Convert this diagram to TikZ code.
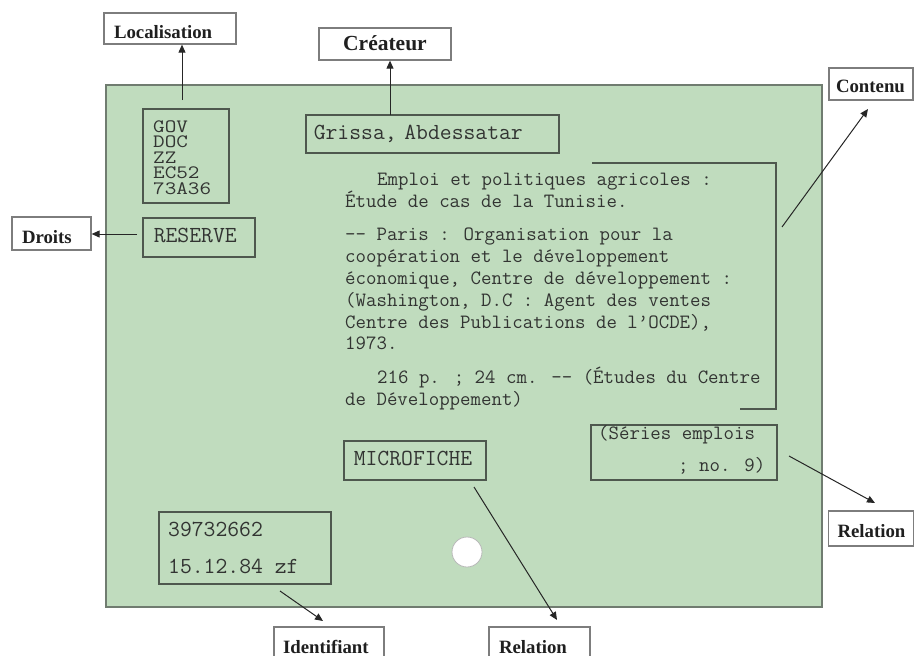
\documentclass[tikz,border=0pt]{standalone}
\usepackage{fontspec}
\setmainfont{Liberation Serif}
\usetikzlibrary{arrows.meta}
\definecolor{cardfill}{RGB}{192,220,190}
\definecolor{cardedge}{RGB}{112,124,112}
\definecolor{boxedge}{RGB}{78,88,78}
\definecolor{cardtext}{RGB}{50,52,50}
\definecolor{lbledge}{RGB}{125,125,125}
\newcommand{\dd}{-\kern0pt-}
\newcommand{\squash}[1]{\scalebox{1}[0.84]{#1}}
\begin{document}
\begin{tikzpicture}[x=1pt,y=-1pt,
  lbl/.style={draw=lbledge, line width=1.3pt, fill=white, inner ysep=0pt, inner xsep=10pt, anchor=base,
              font=\bfseries\fontsize{18.8}{22}\selectfont, text=black!88, align=left},
  cbox/.style={draw=boxedge, line width=1.6pt, inner ysep=0pt, anchor=base west,
               font=\ttfamily\fontsize{23}{26}\selectfont, text=cardtext, align=left},
  boxframe/.style={draw=boxedge, line width=1.6pt, rectangle, inner sep=0pt, anchor=north west},
  ctxt/.style={inner sep=0pt, anchor=base west, text=cardtext},
  bigmono/.style={font=\ttfamily\fontsize{23}{26}\selectfont},
  govmono/.style={font=\ttfamily\fontsize{22.5}{24}\selectfont, text height=11pt, text depth=0.5pt},
  smallmono/.style={font=\ttfamily\fontsize{20.3}{22}\selectfont},
  arr/.style={draw=black!85, line width=1pt, -{Triangle[length=8pt,width=7pt]}},
]
\useasboundingbox (0,0) rectangle (914,656);
\clip (0,0) rectangle (914,656);

% card
\node[draw=cardedge, fill=cardfill, line width=2pt, minimum width=716pt, minimum height=522pt,
      anchor=north west, inner sep=0pt] (card) at (105,84) {};

% outside labels
\node[lbl, text width=112pt, text height=25pt, text depth=6pt] (loc) at (170,38) {Localisation};
\node[lbl, text width=112pt, text height=22pt, text depth=10pt, align=center,
      font=\bfseries\fontsize{21.5}{24}\selectfont] (cre) at (385,50) {Créateur};
\node[lbl, inner xsep=7pt, text width=70pt, text height=24pt, text depth=8pt] (cont) at (871,92) {Contenu};
\node[lbl, text width=59pt, text height=26pt, text depth=7pt] (droits) at (51.5,243) {Droits};
\node[lbl, inner xsep=9pt, text width=67pt, text height=26pt, text depth=9pt] (relr) at (871,537) {Relation};
\node[lbl, text width=81pt, text height=26pt, text depth=15pt] (relb) at (539.5,653) {Relation};
\node[lbl, inner xsep=9pt, text width=92pt, text height=26pt, text depth=15pt] (ident) at (329,653) {Identifiant};

% single-line boxes in the card
\node[cbox, inner xsep=8pt, text width=237pt, text height=24pt, text depth=14pt] (grissa) at (305,139) {Grissa, Abdessatar};
\node[cbox, inner xsep=11pt, text width=90pt, text height=24pt, text depth=15pt] (reserve) at (142,242) {RESERVE};
\node[cbox, inner xsep=10pt, text width=122pt, text height=24pt, text depth=15pt] (micro) at (343,465) {MICROFICHE};

% multi-line boxes
\node[boxframe, minimum width=86pt, minimum height=94pt] (gov) at (142,108) {};
\node[ctxt, govmono] (g1) at (153,132) {\squash{GOV}};
\node[ctxt, govmono] (g2) at (153,147.5) {\squash{DOC}};
\node[ctxt, govmono] (g3) at (153,163) {\squash{ZZ}};
\node[ctxt, govmono] (g4) at (153,178.5) {\squash{EC52}};
\node[ctxt, govmono] (g5) at (153,194) {\squash{73A36}};

\node[boxframe, minimum width=186pt, minimum height=55pt] (series) at (590,424) {};
\node[ctxt, smallmono] (s1) at (598,439) {(Séries emplois};
\node[ctxt, smallmono] (s2) at (678,471) {; no. 9)};

\node[boxframe, minimum width=172pt, minimum height=72pt] (idbox) at (158,511) {};
\node[ctxt, bigmono] (i1) at (168,536) {39732662};
\node[ctxt, bigmono] (i2) at (168,573) {15.12.84 zf};

% main description text
\node[ctxt, smallmono] (t1) at (377,185) {Emploi et politiques agricoles :};
\node[ctxt, smallmono] (t2) at (345,207) {Étude de cas de la Tunisie.};
\node[ctxt, smallmono] (t3) at (345,240) {\dd{} Paris : Organisation pour la};
\node[ctxt, smallmono] (t4) at (345,262) {coopération et le développement};
\node[ctxt, smallmono] (t5) at (345,284) {économique, Centre de développement :};
\node[ctxt, smallmono] (t6) at (345,306) {(Washington, D.C : Agent des ventes};
\node[ctxt, smallmono] (t7) at (345,328) {Centre des Publications de l’OCDE),};
\node[ctxt, smallmono] (t8) at (345,349) {1973.};
\node[ctxt, smallmono] (t9) at (377,383) {216 p. ; 24 cm. \dd{} (Études du Centre};
\node[ctxt, smallmono] (t10) at (345,405) {de Développement)};

% bracket
\coordinate (b1) at (592,163);
\coordinate (b2) at (776,163);
\coordinate (b3) at (776,409);
\coordinate (b4) at (740,409);
\draw[boxedge, line width=1.4pt] (b1) -- (b2) -- (b3) -- (b4);

% punch hole
\node[circle, draw=gray!55, fill=white, line width=0.8pt, minimum size=30pt, inner sep=0pt] (hole) at (467,552) {};

% connectors
\coordinate (locfrom) at (182,100);
\draw[arr] (locfrom) -- (locfrom |- loc.south);
\coordinate (crefrom) at (390,115);
\draw[arr] (crefrom) -- (crefrom |- cre.south);
\coordinate (contfrom) at (782,227);
\coordinate (contto) at (868,109);
\draw[arr] (contfrom) -- (contto);
\coordinate (resfrom) at (137,234);
\draw[arr] (resfrom) -- (resfrom -| droits.east);
\coordinate (idfrom) at (280,591);
\coordinate (idto) at (323,621);
\draw[arr] (idfrom) -- (idto);
\coordinate (mfrom) at (474,487);
\coordinate (mto) at (557,620);
\draw[arr] (mfrom) -- (mto);
\coordinate (sfrom) at (789,456);
\coordinate (sto) at (875,503);
\draw[arr] (sfrom) -- (sto);
\end{tikzpicture}
\end{document}
